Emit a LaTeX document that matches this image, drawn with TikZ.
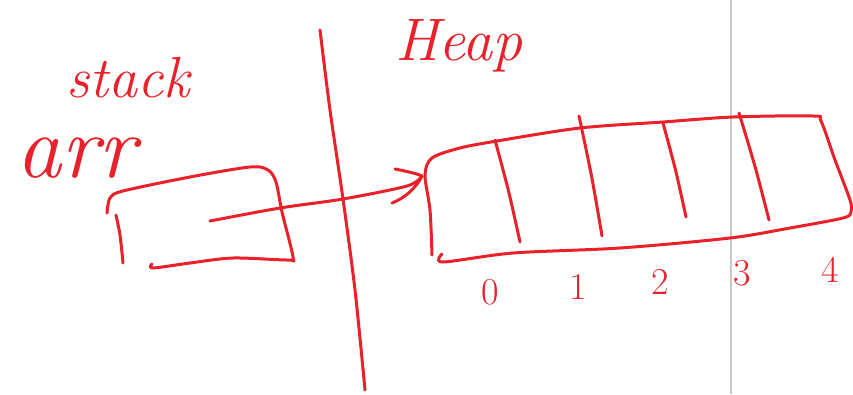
\documentclass[tikz,border=0pt]{standalone}
\usepackage{fontspec}
\usetikzlibrary{calc}
\definecolor{ink}{HTML}{E8212B}
\definecolor{pagegray}{HTML}{C8C8C8}
\begin{document}
\begin{tikzpicture}[x=1pt,y=-1pt,
  pen/.style={draw=ink,line width=3pt,line cap=round,line join=round},
  hand/.style={text=ink,inner sep=0pt,font=\itshape},
  digit/.style={text=ink,inner sep=0pt,font=\fontsize{38}{38}\selectfont}]
\useasboundingbox (0,0) rectangle (853,394);
\fill[white] (0,0) rectangle (853,394);
% page boundary
\draw[pagegray,line width=1.2pt] (731,0) -- (731,394);
% labels
\node[hand,font=\fontsize{58}{58}\selectfont\itshape] (stacklbl) at (128,78) {stack};
\node[hand,font=\fontsize{90}{90}\selectfont\itshape] (arrlbl) at (76,158) {arr};
\node[hand,font=\fontsize{60}{60}\selectfont\itshape] (heaplbl) at (459,46) {Heap};
% divider
\draw[pen] plot[smooth] coordinates {(320,30) (330,110) (343,199) (355,290) (365,390)};
% stack box
\draw[pen] plot[smooth] coordinates {(107,213) (110,198) (123,191) (190,177) (250,167) (268,170) (276,182) (282,212) (293,257) (288,260) (233,258) (190,263) (153,268) (152,264)};
\draw[pen] plot[smooth] coordinates {(116,215) (120,235) (123,263)};
% heap array
\draw[pen] plot[smooth] coordinates {(432,255) (430,210) (425,175) (432,158) (460,148) (497,141) (580,128) (663,122) (733,117) (813,116) (821,121) (835,160) (850,200) (851,212) (843,218) (790,228) (730,238) (620,248) (513,253) (443,262) (442,254)};
\foreach \a/\b in {{495,140}/{520,242},{579,116}/{602,236},{663,123}/{686,217},{739,113}/{769,220}}
  \draw[pen] plot[smooth] coordinates {(\a) ($(\a)!0.5!(\b)+(1,0)$) (\b)};
% pointer
\coordinate (ptrstart) at (210,221);
\coordinate (ptrend) at (422,176);
\coordinate (barbup) at (395,169);
\coordinate (barblo) at (392,203);
\draw[pen] plot[smooth] coordinates {(ptrstart) (280,208) (343,199) (407,186) (ptrend)};
\draw[pen] (barbup) .. controls (410,172) and (418,174) .. (ptrend);
\draw[pen] (barblo) .. controls (405,198) and (416,188) .. (ptrend);
% indices
\node[digit] (i0) at (490,292) {0};
\node[digit] (i1) at (578,287) {1};
\node[digit] (i2) at (660,282) {2};
\node[digit] (i3) at (742,273) {3};
\node[digit] (i4) at (830,270) {4};
\end{tikzpicture}
\end{document}
